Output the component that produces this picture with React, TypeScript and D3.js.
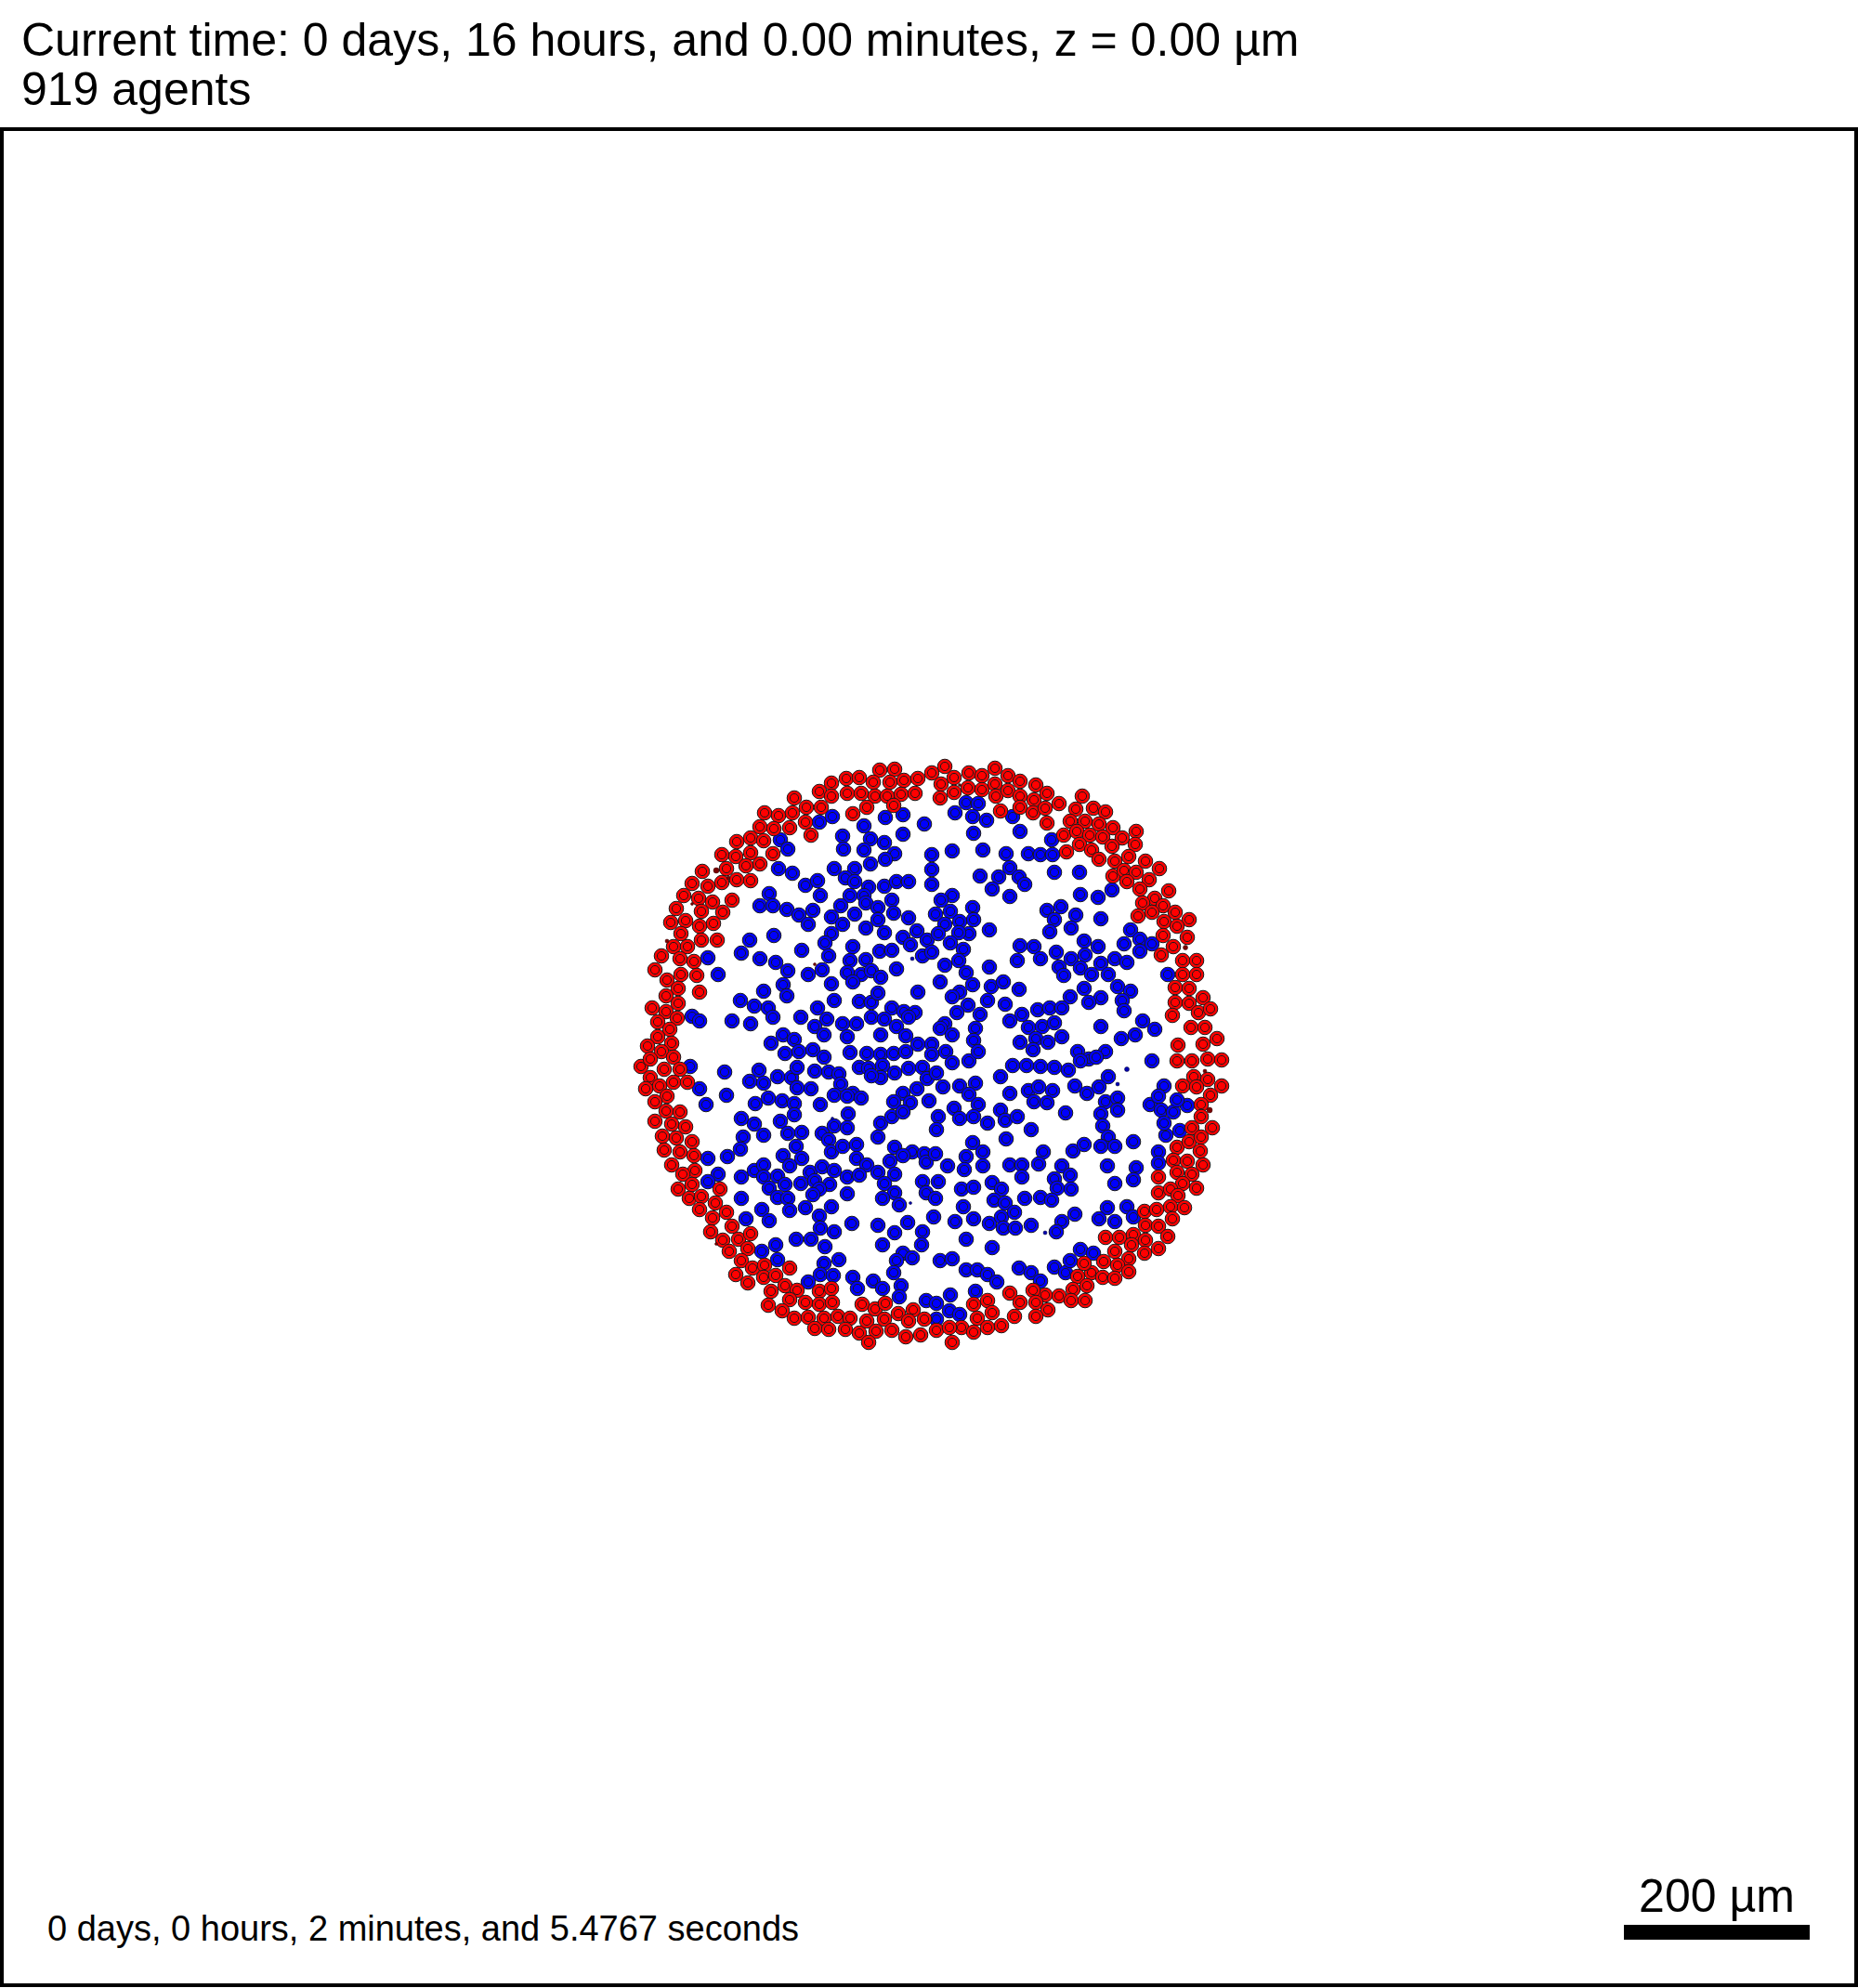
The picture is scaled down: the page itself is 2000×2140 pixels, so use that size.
import React, { useEffect, useRef } from 'react'
import * as d3 from 'd3'

// cell centres in µm (x right, y up)
const tumorCells: [number, number][] = [
  [-53,309],[-37,310],[-105,295],[-89,300],[-75,301],[-60,296],[-42,296],[-27,298],[-12,300],
  [-118,286],[-105,281],[-88,284],[-73,284],[-58,281],[-45,281],[-30,283],[-15,284],
  [-145,279],[-132,269],[-116,269],[-82,262],[-67,269],[-38,271],
  [-177,263],[-162,260],[-147,263],[-133,253],[-127,239],[-182,248],[-167,246],[-150,247],
  [-207,232],[-192,236],[-178,233],[-168,219],[-223,218],[-208,216],[-192,220],[-182,208],[-197,206],
  [-244,200],[-218,203],[-207,191],[-192,190],[-223,188],[-255,187],[-238,184],[-248,171],[-233,167],[-212,169],
  [-264,174],[-272,160],[-245,157],[-222,156],[-262,147],[-278,145],[-232,144],[-247,141],[-267,133],[-245,126],
  [-228,126],[-275,119],[-260,119],[-288,109],[-268,106],[-253,103],[-295,94],[-267,89],[-250,88],[-282,83],
  [-247,70],[-270,74],[-283,66],[-298,53],[-270,58],[-283,49],[-271,42],[-292,38],[-279,30],[-292,22],[-277,15],[-303,12],
  [17,313],[3,306],[43,306],[57,303],[71,311],[85,303],[13,294],[27,301],[42,290],[57,288],[71,294],[98,297],[115,293],
  [12,279],[27,285],[72,281],[85,287],[98,281],[113,277],[127,284],[140,273],[77,265],[98,269],[112,263],[125,268],
  [165,281],[158,267],[177,268],[190,264],[152,254],[168,254],[183,251],[198,247],[127,252],[145,239],[159,243],
  [173,239],[187,237],[208,236],[223,243],[148,221],[162,229],[175,223],[197,227],[222,229],[183,213],[200,211],
  [215,216],[233,211],[248,203],[198,195],[210,201],[223,199],[237,191],[258,179],[213,189],[227,181],[243,171],
  [230,166],[252,163],[265,156],[280,148],[225,152],[240,156],[253,146],[267,141],[278,129],[252,131],[263,119],
  [250,110],[273,104],[288,104],[273,89],[288,89],[265,75],[280,74],[295,64],[265,59],[280,58],[290,48],[303,52],
  [262,45],[282,32],[297,32],[310,20],[268,13],[295,14],
  [-288,6],[-275,0],[-310,-10],[-300,-2],[-285,-13],[-268,-13],[-300,-22],[-290,-31],[-275,-27],[-260,-27],
  [-305,-34],[-282,-42],[-295,-48],[-283,-58],[-268,-59],[-295,-69],[-277,-72],[-262,-75],[-287,-85],[-272,-87],
  [-255,-91],[-285,-100],[-268,-102],[-253,-106],[-277,-116],[-252,-122],[-265,-126],[-255,-137],[-270,-142],
  [-225,-142],[-258,-152],[-245,-150],[-230,-157],[-247,-164],[-233,-173],[-218,-167],[-235,-188],[-212,-182],
  [-222,-197],[-205,-196],[-192,-190],[-195,-206],[-215,-209],[-202,-219],[-190,-227],[-177,-224],[-150,-227],
  [-208,-234],[-195,-243],[-178,-237],[-165,-235],[-170,-252],[-155,-246],[-142,-251],[-118,-252],[-105,-249],
  [-150,-261],[-133,-264],[-118,-266],[-104,-264],[-173,-267],[-158,-273],[-145,-281],[-130,-280],[-113,-281],
  [-98,-279],[-85,-281],[-72,-266],[-58,-271],[-47,-265],[-33,-276],[-17,-272],[-123,-292],[-108,-293],[-90,-293],
  [-75,-297],[-67,-284],[-57,-295],[-48,-282],[-40,-294],[-25,-301],[-22,-284],[-9,-299],[-5,-282],[-65,-307],
  [267,-4],[283,-4],[300,-2],[315,-3],[285,-21],[273,-31],[300,-24],[315,-31],[288,-32],[303,-41],[293,-51],
  [293,-64],[283,-76],[305,-76],[267,-97],[280,-91],[293,-86],[263,-111],[278,-112],[295,-116],[292,-101],
  [247,-129],[267,-124],[283,-126],[273,-136],[288,-141],[247,-146],[260,-142],[268,-149],[232,-166],[245,-164],
  [260,-161],[275,-162],[233,-181],[247,-182],[262,-174],[190,-194],[205,-194],[220,-191],[233,-197],[257,-193],
  [200,-209],[218,-202],[232,-211],[247,-206],[215,-217],[188,-220],[203,-224],[160,-236],[175,-232],[187,-237],
  [200,-238],[215,-231],[167,-222],[170,-246],[155,-250],[140,-257],[125,-256],[112,-251],[87,-254],[98,-264],
  [115,-264],[128,-272],[153,-262],[168,-262],[115,-279],[48,-266],[63,-262],[68,-275],[52,-281],[35,-291],
  [48,-296],[63,-291],[78,-289],[92,-279],[8,-294],[22,-291],[25,-307],
]

const coreCells: [number, number][] = [
  [-118,253],[-104,259],[-70,249],[-47,258],[-28,261],[-5,251],[-93,238],[-63,235],[-48,231],[-28,240],
  [-160,234],[-152,224],[-92,224],[-70,223],[-37,219],[-162,203],[-147,198],[-102,203],[-80,203],[-63,208],[-47,213],
  [-133,185],[-120,190],[-90,193],[-80,189],[-65,183],[-48,184],[-35,189],[-22,189],[-172,176],[-117,174],[-85,174],
  [-70,174],[-182,163],[-168,163],[-153,159],[-140,153],[-125,158],[-95,163],[-68,166],[-55,161],[-40,169],[-38,155],
  [-130,143],[-105,151],[-93,143],[-80,154],[-55,148],[-22,150],[-193,126],[-167,131],[-105,133],[-68,139],[-48,134],
  [-28,129],[-13,136],[-2,126],[-202,112],[-137,115],[-112,123],[-82,119],[-53,114],[-40,115],[-7,109],[-238,107],
  [-182,106],[-165,102],[-108,109],[-85,104],[-68,105],[-20,121],[-227,89],[-152,93],[-130,89],[-115,94],[-88,91],
  [-73,89],[-62,93],[-52,86],[-35,95],[-157,78],[-105,79],[-82,81],[-178,71],[-153,66],[-102,61],[-75,60],[-62,59],
  [-55,69],[-12,70],[-203,61],[-188,55],[-173,53],[-120,53],[-40,53],[-27,49],[-15,48],[-255,44],[-247,39],[-212,39],
  [-192,36],[-168,43],[-138,43],[-110,41],[-93,36],[-78,36],[-62,43],[-48,41],[-35,33],[-22,43],[-157,24],[-145,19],
  [-123,33],[-113,24],[-88,22],[-52,24],[-25,23],[-12,14],[-170,15],
  [40,274],[53,273],[28,263],[47,259],[62,255],[90,259],[48,241],[98,243],[132,234],[25,222],[58,223],[83,219],
  [107,219],[120,218],[133,218],[3,218],[3,202],[55,195],[75,194],[87,204],[97,194],[103,186],[135,199],[162,199],
  [68,181],[87,173],[3,186],[25,174],[13,169],[197,180],[163,175],[182,172],[47,161],[23,157],[7,154],[127,158],
  [142,162],[48,148],[33,146],[17,143],[135,148],[158,153],[185,149],[65,137],[43,133],[32,134],[10,133],[130,135],
  [153,139],[217,137],[23,123],[37,116],[98,120],[113,119],[167,125],[182,119],[210,122],[227,127],[240,122],
  [227,114],[3,113],[17,99],[32,104],[95,104],[120,106],[137,113],[153,106],[168,110],[185,101],[200,106],[213,102],
  [257,89],[65,97],[40,91],[140,97],[163,96],[175,89],[193,89],[145,88],[12,81],[67,76],[80,81],[97,73],[47,78],
  [33,70],[167,74],[185,64],[203,76],[217,71],[25,65],[63,61],[82,57],[152,65],[172,59],[208,61],[210,50],[42,56],
  [55,46],[30,48],[17,36],[100,46],[117,51],[130,53],[143,53],[87,39],[12,31],[25,24],[50,31],[107,32],[122,33],
  [135,37],[143,22],[185,33],[230,39],[243,30],[48,18],[98,16],[115,20],[128,16],[222,24],[207,20],[3,14],
  [-155,4],[-140,6],[-125,8],[-113,0],[-85,5],[-67,4],[-52,3],[-38,4],[-25,6],[-257,-10],[-220,-16],[-183,-14],
  [-163,-21],[-148,-22],[-142,-11],[-123,-15],[-108,-16],[-97,-18],[-75,-11],[-65,-12],[-50,-9],[-37,-17],[-22,-12],
  [-7,-11],[-247,-34],[-218,-41],[-193,-26],[-178,-28],[-142,-33],[-127,-34],[-95,-29],[-82,-39],[-52,-22],[-62,-20],
  [-28,-39],[-13,-34],[-2,-23],[-240,-51],[-187,-50],[-173,-44],[-158,-47],[-145,-50],[-117,-51],[-102,-41],
  [-88,-42],[-73,-44],[-38,-48],[-20,-49],[-202,-66],[-188,-72],[-160,-69],[-145,-62],[-87,-61],[-102,-74],
  [-52,-71],[-40,-64],[-28,-59],[-200,-86],[-178,-84],[-152,-82],[-137,-81],[-115,-82],[-88,-76],[-55,-86],
  [-203,-99],[-143,-96],[-108,-89],[-105,-102],[-93,-96],[-78,-94],[-37,-97],[-18,-102],[-5,-104],[-238,-109],
  [-217,-107],[-157,-106],[-137,-109],[-78,-109],[-67,-116],[-42,-112],[-28,-106],[-3,-113],[-227,-126],
  [-238,-134],[-202,-129],[-188,-122],[-178,-116],[-178,-129],[-163,-128],[-150,-117],[-128,-124],[-115,-118],
  [-102,-122],[-88,-129],[-75,-127],[-55,-124],[-37,-126],[-7,-134],[-172,-141],[-155,-137],[-138,-136],
  [-123,-133],[-107,-137],[-118,-142],[-48,-136],[-37,-146],[-3,-146],[-202,-152],[-163,-151],[-152,-152],
  [-125,-148],[-88,-147],[-50,-152],[-32,-159],[-180,-164],[-172,-176],[-150,-165],[-133,-162],[-105,-161],
  [-118,-171],[-197,-174],[-83,-179],[-55,-181],[-23,-178],[-117,-184],[-102,-188],[-37,-189],[-7,-188],
  [-143,-196],[-127,-196],[-112,-204],[-50,-202],[-8,-202],[-28,-211],[-18,-216],[-180,-209],[-165,-202],
  [-163,-218],[-113,-222],[-97,-218],[-35,-219],[-130,-242],[-117,-234],[-103,-235],[-82,-237],[-60,-241],
  [-38,-232],[-30,-246],[-77,-249],[-50,-249],[-32,-258],[-3,-262],
  [18,6],[43,-4],[25,-6],[53,6],[112,8],[160,6],[172,-2],[190,6],[240,-4],[193,-21],[3,3],[8,-17],[77,-21],
  [90,-9],[105,-9],[120,-10],[135,-11],[150,-14],[163,-4],[180,0],[33,-31],[50,-28],[15,-32],[87,-39],[107,-36],
  [118,-32],[133,-36],[157,-31],[170,-39],[183,-32],[190,-48],[203,-44],[253,-31],[0,-47],[27,-55],[43,-40],
  [53,-51],[113,-48],[127,-49],[147,-60],[203,-57],[238,-51],[250,-57],[263,-59],[278,-52],[267,-46],[247,-42],
  [10,-64],[33,-66],[48,-64],[63,-71],[77,-57],[82,-68],[95,-64],[185,-61],[187,-74],[270,-79],[8,-78],[83,-88],
  [110,-78],[193,-86],[220,-91],[255,-84],[253,-71],[47,-92],[58,-102],[123,-102],[155,-101],[167,-94],[185,-96],
  [200,-96],[247,-102],[7,-104],[20,-117],[40,-107],[38,-121],[58,-117],[87,-116],[100,-116],[118,-115],
  [143,-117],[192,-117],[223,-119],[247,-114],[10,-134],[100,-129],[135,-131],[152,-127],[200,-136],[220,-132],
  [35,-142],[48,-140],[68,-135],[78,-142],[138,-141],[153,-142],[7,-152],[37,-161],[70,-154],[82,-157],[103,-152],
  [120,-151],[132,-154],[192,-162],[213,-161],[220,-172],[5,-172],[28,-177],[48,-174],[65,-179],[78,-172],
  [92,-167],[80,-184],[93,-184],[110,-181],[143,-177],[157,-169],[183,-174],[200,-177],[40,-196],[68,-205],
  [137,-188],[12,-219],[25,-217],[40,-229],[52,-229],[63,-234],[73,-242],[97,-227],[110,-232],[120,-241],
  [135,-226],[147,-232],[152,-219],[163,-207],[177,-211],[50,-252],[23,-256],[8,-265],[22,-273],[33,-277],[8,-282],
]

// small fragments: [x, y, radius]
const redDebris: [number, number, number][] = [
  [-229,201,3],[-216,193,2],[-255,165,1.5],[-282,125,2],[-123,100,1.5],[33,293,1.5],[276,118,2.5],
  [-229,-201,1.5],[302,-57,3],[297,-15,2],
]
const blueDebris: [number, number, number][] = [
  [-18,106,2],[213,-13,2.5],[203,-29,2],[125,-189,2],[-104,-66,1.5],[-20,-157,1.5],
]

const timeLabel = 'Current time: 0 days, 16 hours, and 0.00 minutes, z = 0.00 µm'
const agentLabel = '919 agents'
const runtimeLabel = '0 days, 0 hours, 2 minutes, and 5.4767 seconds'
const scaleBarMicrons = 200

const cellRadius = 7.8
const nucleusRadius = 4.6

const App: React.FC = () => {
  const svgRef = useRef<SVGSVGElement>(null)

  useEffect(() => {
    document.body.style.margin = '0'
    if (!svgRef.current) return

    const svg = d3.select(svgRef.current)
    svg.selectAll('*').remove()

    const width = 2000
    const height = 2140
    const plotTop = 138

    const x = d3.scaleLinear().domain([-1000, 1000]).range([0, width])
    const y = d3.scaleLinear().domain([-1000, 1000]).range([plotTop + 2000, plotTop])
    const r = (v: number) => x(v) - x(0)

    svg.append('rect').attr('width', width).attr('height', height).attr('fill', 'white')

    const font = "'Liberation Sans', Arial, Helvetica, sans-serif"

    svg.append('text')
      .attr('x', 23).attr('y', 60)
      .attr('font-family', font).attr('font-size', 50)
      .text(timeLabel)
    svg.append('text')
      .attr('x', 23).attr('y', 113)
      .attr('font-family', font).attr('font-size', 50)
      .text(agentLabel)

    const drawCells = (data: [number, number][], fill: string) => {
      const g = svg.append('g')
      const cell = g.selectAll('g')
        .data(data)
        .join('g')
        .attr('transform', d => `translate(${x(d[0])},${y(d[1])})`)
      cell.append('circle')
        .attr('r', r(cellRadius))
        .attr('fill', fill)
        .attr('stroke', '#1a1a1a')
        .attr('stroke-width', 1)
      cell.append('circle')
        .attr('r', r(nucleusRadius))
        .attr('fill', fill)
        .attr('stroke', '#1a1a1a')
        .attr('stroke-width', 1)
    }

    drawCells(coreCells, '#0000ff')
    drawCells(tumorCells, '#ff0000')

    svg.append('g').selectAll('circle')
      .data(redDebris)
      .join('circle')
      .attr('cx', d => x(d[0])).attr('cy', d => y(d[1]))
      .attr('r', d => r(d[2]))
      .attr('fill', '#7a0000').attr('stroke', '#300000').attr('stroke-width', 0.5)

    svg.append('g').selectAll('circle')
      .data(blueDebris)
      .join('circle')
      .attr('cx', d => x(d[0])).attr('cy', d => y(d[1]))
      .attr('r', d => r(d[2]))
      .attr('fill', '#0000b0').attr('stroke', '#000030').attr('stroke-width', 0.5)

    // frame
    svg.append('rect')
      .attr('x', 2).attr('y', plotTop + 1)
      .attr('width', width - 4).attr('height', 1998)
      .attr('fill', 'none').attr('stroke', 'black').attr('stroke-width', 4)

    svg.append('text')
      .attr('x', 51).attr('y', 2089)
      .attr('font-family', font).attr('font-size', 38)
      .text(runtimeLabel)

    // scale bar
    const barLen = r(scaleBarMicrons)
    const barRight = 1948
    svg.append('rect')
      .attr('x', barRight - barLen).attr('y', 2072)
      .attr('width', barLen).attr('height', 16)
      .attr('fill', 'black')
    svg.append('text')
      .attr('x', barRight - barLen / 2).attr('y', 2058)
      .attr('text-anchor', 'middle')
      .attr('font-family', font).attr('font-size', 50)
      .text(`${scaleBarMicrons} µm`)
  }, [])

  return (
    <svg ref={svgRef} width={2000} height={2140} style={{ display: 'block' }} />
  )
}

export default App
